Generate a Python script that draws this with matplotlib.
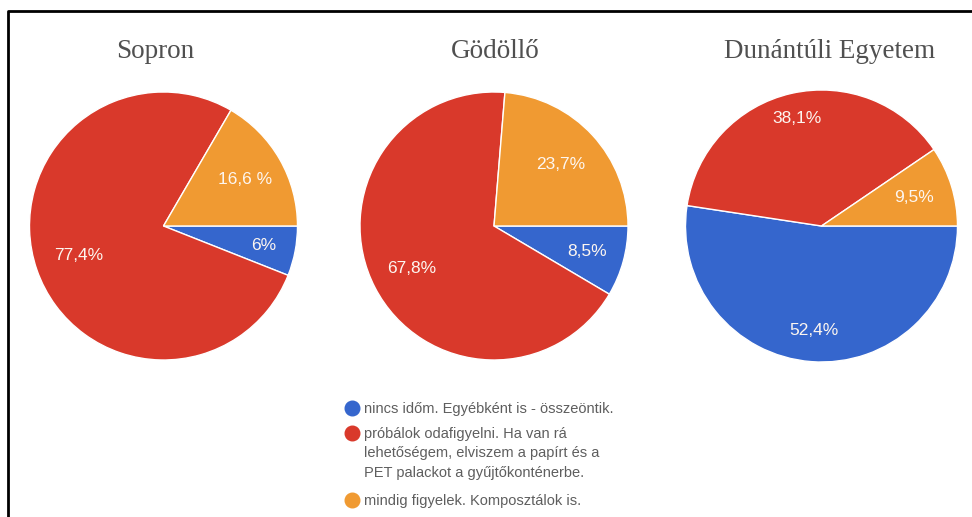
import numpy as np
import matplotlib.pyplot as plt
from matplotlib.lines import Line2D

W, H = 972, 517

# data
titles = ["Sopron", "Gödöllő", "Dunántúli Egyetem"]
# order: nincs időm (blue), próbálok (red), mindig (orange)
values = [
    [6.0, 77.4, 16.6],
    [8.5, 67.8, 23.7],
    [52.4, 38.1, 9.5],
]
pct_labels = [
    ["6%", "77,4%", "16,6 %"],
    ["8,5%", "67,8%", "23,7%"],
    ["52,4%", "38,1%", "9,5%"],
]
legend_labels = [
    "nincs időm. Egyébként is - összeöntik.",
    "próbálok odafigyelni. Ha van rá\nlehetőségem, elviszem a papírt és a\nPET palackot a gyűjtőkonténerbe.",
    "mindig figyelek. Komposztálok is.",
]
colors = ["#3566cd", "#d9392b", "#f09a32"]

# layout in pixels
centers = [(163.5, 226), (494, 226), (821.5, 226)]
radii = [134, 134, 136]
title_x = [155.5, 495, 830]
label_dist = [[0.76, 0.67, 0.70], [0.72, 0.69, 0.68], [0.77, 0.81, 0.71]]

fig = plt.figure(figsize=(W / 100, H / 100), dpi=100)

for i in range(3):
    cx, cy = centers[i]
    r = radii[i]
    ax = fig.add_axes([(cx - r) / W, 1 - (cy + r) / H, 2 * r / W, 2 * r / H])
    wedges, _ = ax.pie(values[i], colors=colors, startangle=0, counterclock=False,
                       radius=1, wedgeprops=dict(edgecolor="white", linewidth=1))
    ax.set_xlim(-1, 1)
    ax.set_ylim(-1, 1)
    ax.set_aspect("equal")
    ax.axis("off")
    for w, lab, d in zip(wedges, pct_labels[i], label_dist[i]):
        ang = np.deg2rad((w.theta1 + w.theta2) / 2)
        ax.text(d * np.cos(ang), d * np.sin(ang), lab, color="#fdf6f0", fontsize=12.5,
                ha="center", va="center", family="Liberation Sans")
    fig.text(title_x[i] / W, 1 - 58 / H, titles[i], ha="center", va="baseline",
             fontsize=19.5, color="#505050", family="Liberation Serif")

# legend
entry_y = [408, 433, 500]
for y, lab, c in zip(entry_y, legend_labels, colors):
    fig.add_artist(Line2D([352 / W], [1 - y / H], marker="o", markersize=10.5,
                          color=c, linestyle="none", transform=fig.transFigure))
    fig.text(364 / W, 1 - (y - 6) / H, lab, ha="left", va="top", fontsize=10.5,
             color="#5e5e5e", linespacing=1.5, family="Liberation Sans")

# screenshot frame (top and left edges)
fig.add_artist(Line2D([8 / W, 8 / W, 1], [0, 1 - 11 / H, 1 - 11 / H],
                      color="black", linewidth=2, transform=fig.transFigure))

fig.savefig("out.png", dpi=100)
